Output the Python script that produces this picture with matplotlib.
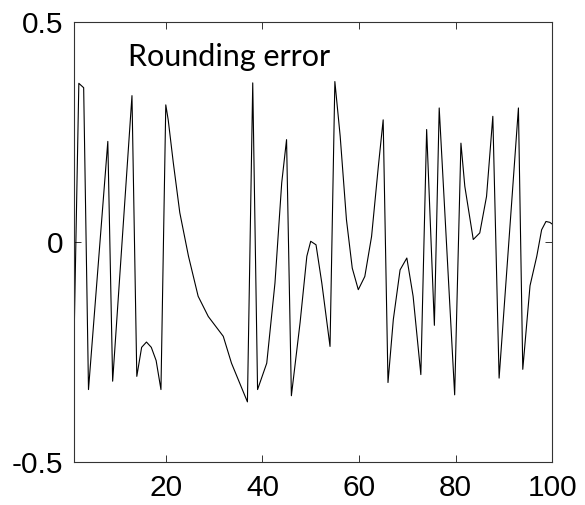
import matplotlib
matplotlib.use("Agg")
import matplotlib.pyplot as plt

plt.rcParams["font.family"] = ["Liberation Sans", "DejaVu Sans"]

# vertices of the rounding-error curve
x_vals = [1, 2, 3, 4, 8, 9, 13, 14, 15, 16, 17, 18, 19, 20,
          20.5, 21.55, 22.9, 24.7, 26.7, 28.8, 31.9, 33.6, 36.9,
          38, 39, 40.9, 42.6, 44.0, 45, 46, 47.8, 49.2, 50.0, 51.1, 52.3, 54,
          55, 56.1, 57.4, 58.6, 59.85, 61.2, 62.6, 64.0, 65, 66,
          67.1, 68.5, 69.9, 71.2, 72.8, 74, 75.6, 76.6, 79.8,
          81.1, 81.9, 83.65, 85.0, 86.4, 87.7, 89.0, 93.0, 93.9,
          95.4, 96.8, 97.8, 98.7, 99.5, 100]
y_vals = [-0.23, 0.36, 0.35, -0.336, 0.228, -0.317, 0.332, -0.306, -0.24, -0.228, -0.24, -0.27, -0.336, 0.311,
          0.277, 0.18, 0.066, -0.033, -0.124, -0.17, -0.215, -0.276, -0.364,
          0.361, -0.336, -0.276, -0.094, 0.134, 0.232, -0.35, -0.184, -0.033, 0.001, -0.007, -0.094, -0.238,
          0.364, 0.24, 0.05, -0.06, -0.109, -0.079, 0.012, 0.171, 0.277, -0.32,
          -0.177, -0.064, -0.037, -0.124, -0.302, 0.255, -0.19, 0.304, -0.348,
          0.224, 0.126, 0.005, 0.02, 0.103, 0.285, -0.31, 0.304, -0.29,
          -0.10, -0.033, 0.027, 0.046, 0.044, 0.04]

x_ticks = [20, 40, 60, 80, 100]
y_ticks = [-0.5, 0, 0.5]
y_tick_labels = ["-0.5", "0", "0.5"]

fig = plt.figure(figsize=(5.85, 5.05), dpi=100)
ax = fig.add_axes([0.1265, 0.0857, 0.8175, 0.8713])

ax.plot(x_vals, y_vals, color="black", lw=0.8)

ax.set_xlim(1, 100)
ax.set_ylim(-0.5, 0.5)
ax.set_xticks(x_ticks)
ax.set_yticks(y_ticks)
ax.set_yticklabels(y_tick_labels)

ax.tick_params(direction="in", length=5, width=0.7, top=True, right=True,
               labelsize=21.5, color="#333333")
ax.tick_params(axis="x", pad=9)
ax.tick_params(axis="y", pad=8)
for sp in ax.spines.values():
    sp.set_linewidth(0.8)
    sp.set_color("#333333")

ax.text(12.1, 0.40, "Rounding error", fontsize=22, family="Lato",
        ha="left", va="baseline")

fig.savefig("out.png", dpi=100)
